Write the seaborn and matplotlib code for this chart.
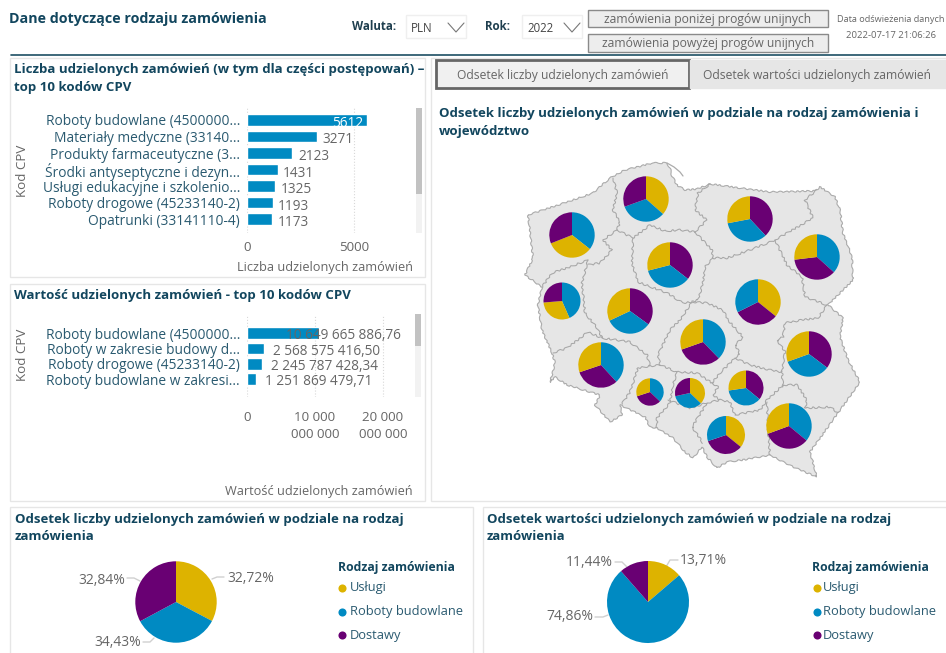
import matplotlib
matplotlib.use("Agg")
import matplotlib.pyplot as plt
from matplotlib.patches import Rectangle, Polygon
import pandas as pd
import seaborn as sns

# ---------- data ----------
CPV_COUNT_LABELS = ["Roboty budowlane (4500000...", "Materiały medyczne (33140...",
                    "Produkty farmaceutyczne (3...", "Środki antyseptyczne i dezyn...",
                    "Usługi edukacyjne i szkolenio...", "Roboty drogowe (45233140-2)",
                    "Opatrunki (33141110-4)"]
CPV_COUNT_VALUES = [5612, 3271, 2123, 1431, 1325, 1193, 1173]

CPV_VALUE_LABELS = ["Roboty budowlane (4500000...", "Roboty w zakresie budowy d...",
                    "Roboty drogowe (45233140-2)", "Roboty budowlane w zakresi..."]
CPV_VALUE_VALUES = [10649665886.76, 2568575416.50, 2245787428.34, 1251869479.71]
CPV_VALUE_TEXT = ["10 649 665 886,76", "2 568 575 416,50", "2 245 787 428,34", "1 251 869 479,71"]

TYPES = ["Usługi", "Roboty budowlane", "Dostawy"]
SHARE_COUNT = [32.72, 34.43, 32.84]
SHARE_VALUE = [13.71, 74.86, 11.44]

VOIVODESHIPS = ["pomorskie", "warmińsko-mazurskie", "zachodniopomorskie", "podlaskie",
                "kujawsko-pomorskie", "lubuskie", "wielkopolskie", "mazowieckie", "łódzkie",
                "lubelskie", "dolnośląskie", "opolskie", "śląskie", "świętokrzyskie",
                "małopolskie", "podkarpackie"]
V_USLUGI = [36.5, 28.0, 33.4, 26.9, 29.0, 30.3, 32.0, 35.8, 30.4, 30.5, 30.2, 30.0, 37.2, 27.3, 35.8, 30.6]
V_ROBOTY = [33.0, 34.0, 35.6, 36.7, 35.5, 43.4, 33.0, 32.4, 37.8, 34.2, 38.2, 37.0, 34.4, 36.7, 30.2, 36.0]
V_DOSTAWY = [30.5, 38.0, 31.0, 36.4, 35.5, 26.3, 35.0, 31.8, 31.8, 35.3, 31.6, 32.8, 28.4, 36.0, 34.0, 33.4]
V_ORDER = ["UBD", "DBU", "BUD", "BDU", "DBU", "BUD", "DBU", "UDB", "BDU", "DBU", "BDU", "BDU", "UBD", "DBU", "UDB", "BDU"]

# ---------- layout / style ----------
V_CENTER = [(646, 199), (750, 219), (572, 235), (817, 257), (670, 265), (562, 301), (630, 311), (758, 302),
            (703, 342), (809, 354), (601, 365), (650, 392), (690, 393), (746, 388), (726, 435), (789, 426)]
V_RADIUS = [22.7, 22.7, 22.7, 22.7, 22.7, 18.5, 22.7, 22.7, 22.7, 22.7, 22.7, 13.7, 15, 17.5, 19, 22.7]

POLAND = [(528, 215), (567, 202), (593, 193), (610, 178), (625, 170), (653, 163), (667, 163), (670, 168), (672, 176),
          (677, 185), (685, 190), (697, 189), (710, 184), (770, 192), (815, 191), (820, 187), (835, 197),
          (840, 210), (843, 233), (852, 257), (853, 280), (828, 305), (843, 318), (840, 337), (848, 360),
          (860, 382), (838, 413), (810, 452), (817, 477), (793, 467), (770, 455), (743, 460), (727, 462),
          (717, 468), (707, 457), (702, 447), (693, 458), (685, 452), (673, 438), (657, 428), (650, 427),
          (645, 417), (620, 405), (622, 415), (610, 422), (595, 405), (600, 395), (567, 385), (555, 377),
          (550, 382), (555, 363), (552, 353), (542, 330), (538, 305), (542, 287), (525, 275), (533, 258),
          (531, 240)]
HEL = [(667, 163), (674, 167), (680, 172), (683, 176)]
BORDERS = [
    [(613, 178), (617, 193), (613, 210), (620, 222), (617, 230)],
    [(617, 230), (603, 240), (612, 250), (600, 263), (588, 265)],
    [(588, 260), (567, 268), (552, 273), (542, 287)],
    [(588, 260), (582, 283), (585, 313), (597, 328), (602, 338)],
    [(553, 353), (567, 348), (588, 332), (602, 338), (630, 342), (647, 355), (650, 366)],
    [(617, 230), (633, 238), (650, 225), (665, 231), (680, 230), (695, 232)],
    [(695, 232), (707, 220), (695, 210), (698, 193), (710, 184)],
    [(695, 232), (712, 250), (713, 258), (727, 258), (750, 250), (775, 240)],
    [(775, 240), (813, 218), (805, 200), (817, 190)],
    [(775, 240), (787, 265), (802, 277), (805, 297), (827, 305)],
    [(633, 238), (632, 263), (638, 282), (667, 293), (683, 303), (692, 302)],
    [(713, 258), (705, 267), (703, 283), (698, 300), (692, 302)],
    [(692, 302), (707, 303), (723, 310), (728, 320), (743, 337), (735, 345), (740, 354), (735, 358), (720, 373), (712, 383)],
    [(692, 302), (680, 320), (670, 330), (658, 355), (660, 365), (677, 372), (697, 373), (712, 383)],
    [(660, 365), (650, 366), (638, 368), (630, 392), (622, 404)],
    [(677, 372), (673, 385), (670, 403), (657, 418), (657, 428)],
    [(668, 400), (690, 408), (707, 403), (692, 427), (703, 443)],
    [(707, 403), (720, 400), (730, 402), (735, 415)],
    [(712, 383), (718, 387), (713, 395), (720, 400)],
    [(735, 415), (760, 410), (767, 400), (783, 385)],
    [(767, 402), (768, 430), (770, 455)],
    [(783, 385), (797, 385), (807, 400), (805, 408), (830, 407), (838, 413)],
    [(827, 305), (818, 318), (802, 320), (785, 323), (783, 337), (777, 340), (785, 352), (782, 372), (783, 387)],
    [(735, 358), (750, 365), (770, 370), (782, 372)],
]

BLUE, YELLOW, PURPLE = "#008AC2", "#DDB300", "#690073"
TYPE_COLOR = {"U": YELLOW, "B": BLUE, "D": PURPLE}
NAVY = "#12465E"
CATTXT = "#2A5A70"
GREY = "#666666"
LEADER = "#D0D0D0"
W, H = 946, 653
sns.set_theme(style="white")
plt.rcParams["font.family"] = ["Open Sans", "DejaVu Sans"]
fig = plt.figure(figsize=(W / 100, H / 100), dpi=100, facecolor="white")

bg = fig.add_axes([0, 0, 1, 1], zorder=0)
bg.axis("off")


def box(x0, y0, x1, y1, fc="white", ec="#E6E6E6", lw=1.0, z=1):
    bg.add_patch(Rectangle((x0, y0), x1 - x0, y1 - y0, fc=fc, ec=ec, lw=lw, zorder=z))


def txt(x, y, s, size=9, color=GREY, weight="normal", ha="left", va="center", z=6):
    bg.text(x, y, s, fontsize=size, color=color, fontweight=weight, ha=ha, va=va, zorder=z)


def pie(values, colors, cx, cy, r):
    # y grows downwards here, so an increasing angle reads clockwise on screen
    bg.pie(values, colors=colors, center=(cx, cy), radius=r, startangle=-90, counterclock=True,
           wedgeprops={"linewidth": 0, "zorder": 5})


# panels
box(10, 58, 425, 277)
box(10, 284, 425, 501)
box(10, 507, 473, 660)
box(483, 507, 950, 660)
box(431, 58, 950, 501)
bg.plot([11, 946], [55, 55], color="#1D4F63", lw=1.2, zorder=2)

# header
txt(9, 19, "Dane dotyczące rodzaju zamówienia", 10.3, NAVY, "bold")
txt(352, 27, "Waluta:", 8.3, "#1F3F4F", "bold")
txt(485, 27, "Rok:", 8.3, "#1F3F4F", "bold")
for x0, x1, lab in [(406, 466, "PLN"), (522, 582, "2022")]:
    box(x0, 15, x1, 38, ec="#EFEFEF")
    txt(x0 + 5, 28, lab, 8.3, "#444444")
    bg.plot([x1 - 18, x1 - 10, x1 - 2], [23, 32, 23], color="#777777", lw=0.8, zorder=6)
for y0, y1, lab in [(10, 27, "zamówienia poniżej progów unijnych"), (34, 52, "zamówienia powyżej progów unijnych")]:
    box(588, y0, 828, y1, fc="#EDEDED", ec="#8A8A8A", lw=1.0, z=3)
    txt(708, (y0 + y1) / 2 + 0.5, lab, 8.75, GREY, ha="center")
txt(891, 20, "Data odświeżenia danych", 6.6, GREY, ha="center")
txt(891, 36, "2022-07-17 21:06:26", 6.8, GREY, ha="center")

box(436, 60, 689, 88, fc="#F0F0F0", ec="#666666", lw=2, z=3)
box(690, 60, 946, 88, fc="#E6E6E6", ec="#E6E6E6", lw=1, z=3)
txt(562.5, 75, "Odsetek liczby udzielonych zamówień", 8.7, GREY, ha="center")
txt(817, 75, "Odsetek wartości udzielonych zamówień", 8.7, GREY, ha="center")

# panel titles
txt(14, 69, "Liczba udzielonych zamówień (w tym dla części postępowań) –", 9.5, NAVY, "bold")
txt(14, 88, "top 10 kodów CPV", 9.5, NAVY, "bold")
txt(14, 295, "Wartość udzielonych zamówień - top 10 kodów CPV", 9.5, NAVY, "bold")
txt(439, 113, "Odsetek liczby udzielonych zamówień w podziale na rodzaj zamówienia i", 9.5, NAVY, "bold")
txt(439, 131, "województwo", 9.5, NAVY, "bold")
txt(15, 519, "Odsetek liczby udzielonych zamówień w podziale na rodzaj", 9.5, NAVY, "bold")
txt(15, 537, "zamówienia", 9.5, NAVY, "bold")
txt(487, 519, "Odsetek wartości udzielonych zamówień w podziale na rodzaj", 9.45, NAVY, "bold")
txt(487, 537, "zamówienia", 9.45, NAVY, "bold")

# scrollbars
bg.add_patch(Rectangle((416, 108), 6, 125, fc="#F2F2F2", ec="none", zorder=2))
bg.add_patch(Rectangle((416, 108), 6, 86, fc="#C2C2C2", ec="none", zorder=3))
bg.add_patch(Rectangle((415, 314), 6, 83, fc="#F2F2F2", ec="none", zorder=2))
bg.add_patch(Rectangle((415, 314), 6, 32, fc="#C2C2C2", ec="none", zorder=3))

# map
outline = bg.add_patch(Polygon(POLAND, closed=True, fc="#E6E6E6", ec="#ABABAB", lw=0.8, zorder=2))
outline.set_sketch_params(0.7, 8, 3)
bg.plot(*zip(*HEL), color="#ABABAB", lw=0.9, zorder=2)
for line in BORDERS:
    seg, = bg.plot(*zip(*line), color="#A6A6A6", lw=0.75, zorder=3)
    seg.set_sketch_params(0.9, 8, 3)
lookup = dict(zip("UBD", (V_USLUGI, V_ROBOTY, V_DOSTAWY)))
for i, order in enumerate(V_ORDER):
    vals = [lookup[k][i] for k in order]
    cols = [TYPE_COLOR[k] for k in order]
    pie(vals, cols, V_CENTER[i][0], V_CENTER[i][1], V_RADIUS[i])

# bottom pies
pie(SHARE_COUNT, [YELLOW, BLUE, PURPLE], 176, 602, 40.7)
pie(SHARE_VALUE, [YELLOW, BLUE, PURPLE], 648, 602, 41)
for s, x, y, ha, seg in [
    ("32,72%", 227, 579, "left", [(212, 579), (217, 577), (224, 577)]),
    ("32,84%", 125, 580, "right", [(127, 578), (134, 578), (140, 581)]),
    ("34,43%", 141, 643, "right", [(143, 642), (150, 642), (154, 638)]),
    ("13,71%", 680, 561, "left", [(666, 567), (670, 560), (678, 560)]),
    ("11,44%", 613, 563, "right", [(615, 562), (622, 562), (627, 567)]),
    ("74,86%", 593, 617, "right", [(595, 617), (603, 617), (608, 615)]),
]:
    txt(x, y, s, 10, GREY, ha=ha)
    bg.plot(*zip(*seg), color=LEADER, lw=1, zorder=4)

# legends
for xt, xd, xl in [(338, 342, 350), (812, 817, 823)]:
    txt(xt, 567, "Rodzaj zamówienia", 8.85, NAVY, "bold")
    for y, lab, col in zip((588, 612, 635), TYPES, (YELLOW, BLUE, PURPLE)):
        bg.scatter([xd], [y], s=34, color=col, linewidths=0, zorder=6)
        txt(xl, y, lab, 9.3, CATTXT)

bg.set_xlim(0, W)
bg.set_ylim(H, 0)
bg.set_aspect("auto")


def axes_px(x0, y0, x1, y1):
    return fig.add_axes([x0 / W, 1 - y1 / H, (x1 - x0) / W, (y1 - y0) / H], zorder=4, facecolor="none")


def style_bar(ax, xlim, ylim, ticks, ticklabels, xlabel, xlab_px, ylab_px, pad, box_px):
    ax.set_xlim(*xlim)
    ax.set_ylim(*ylim)
    ax.set_xticks(ticks, ticklabels)
    ax.tick_params(axis="x", length=0, pad=pad, labelsize=9.6, labelcolor=GREY)
    ax.tick_params(axis="y", length=0, pad=5, labelsize=9.95, labelcolor=CATTXT)
    for lab in ax.get_xticklabels():
        lab.set_linespacing(1.45)
    ax.grid(axis="x", color="#D8D8D8", lw=0.8, ls=":")
    ax.grid(axis="y", visible=False)
    ax.set_axisbelow(True)
    sns.despine(ax=ax, left=True, bottom=True)
    x0, y0, x1, y1 = box_px
    ax.set_xlabel(xlabel, fontsize=9.2, color=GREY, ha="right")
    ax.xaxis.set_label_coords((xlab_px[0] - x0) / (x1 - x0), (y1 - xlab_px[1]) / (y1 - y0), ax.transAxes)
    ax.xaxis.label.set_va("center")
    ax.set_ylabel("Kod CPV", fontsize=9.6, color=GREY)
    ax.yaxis.set_label_coords((ylab_px[0] - x0) / (x1 - x0), (y1 - ylab_px[1]) / (y1 - y0), ax.transAxes)
    ax.yaxis.label.set_va("center")


# bar chart 1
box1 = (247, 108, 415, 233)
ax1 = axes_px(*box1)
df1 = pd.DataFrame({"cpv": CPV_COUNT_LABELS, "n": CPV_COUNT_VALUES})
sns.barplot(data=df1, y="cpv", x="n", color=BLUE, saturation=1, width=0.7, ax=ax1, orient="h")
style_bar(ax1, (0, 168 / 107 * 5000), (6.83, -0.72), [0, 5000], ["0", "5000"],
          "Liczba udzielonych zamówień", (413, 267), (22, 171), 6, box1)
for i, v in enumerate(CPV_COUNT_VALUES):
    inside = i == 0
    ax1.annotate(str(v), (v, i), xytext=(-3 if inside else 4, -2.5), textcoords="offset points",
                 ha="right" if inside else "left", va="center", fontsize=9.8,
                 color="white" if inside else GREY)

# bar chart 2
box2 = (247, 315, 415, 397)
ax2 = axes_px(*box2)
df2 = pd.DataFrame({"cpv": CPV_VALUE_LABELS, "v": CPV_VALUE_VALUES})
sns.barplot(data=df2, y="cpv", x="v", color=BLUE, saturation=1, width=0.76, ax=ax2, orient="h")
style_bar(ax2, (0, 168 / 6.8 * 1e9), (4.16, -1.17), [0, 1e10, 2e10], ["0", "10 000\n000 000", "20 000\n000 000"],
          "Wartość udzielonych zamówień", (413, 491), (22, 355), 10, box2)
for i, (v, s) in enumerate(zip(CPV_VALUE_VALUES, CPV_VALUE_TEXT)):
    ax2.annotate(s, (v, i), xytext=(-24 if i == 0 else 6.5, -2), textcoords="offset points",
                 ha="left", va="center", fontsize=9.8, color=GREY)

fig.savefig("out.png", dpi=100)
